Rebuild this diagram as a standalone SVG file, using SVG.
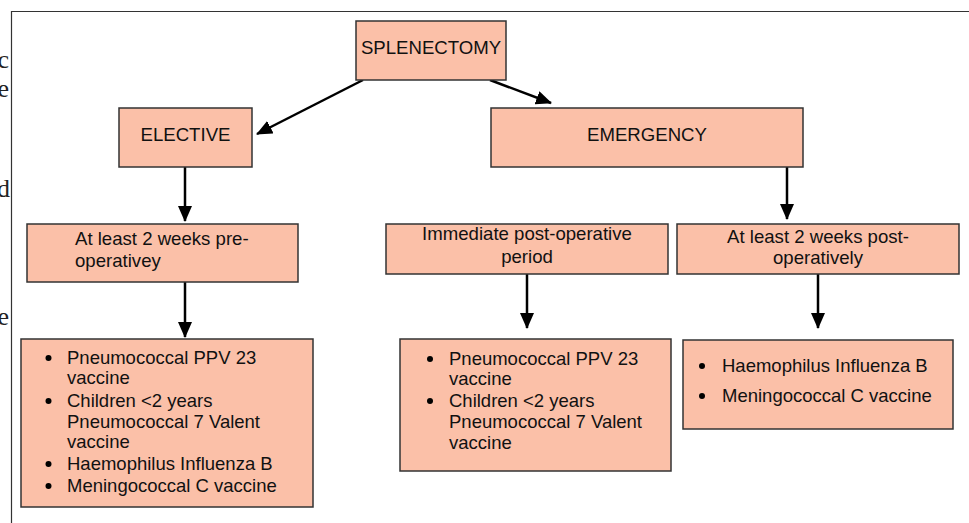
<svg xmlns="http://www.w3.org/2000/svg" width="969" height="523" viewBox="0 0 969 523">
<style>
.box{fill:#FBC0A8;stroke:#333;stroke-width:1.5}
.t{font-family:"Liberation Sans",Arial,sans-serif;font-size:18.6px;fill:#111}
.l{font-family:"Liberation Sans",Arial,sans-serif;font-size:18.5px;fill:#111}
.c{text-anchor:middle}
.edge{stroke:#000;stroke-width:2.5;fill:none;marker-end:url(#ah)}
.frame{stroke:#333;stroke-width:1.2;fill:none}
.pg{font-family:"Liberation Serif","Times New Roman",serif;font-size:26px;fill:#222;text-anchor:end}
</style>
<defs>
<marker id="ah" markerUnits="userSpaceOnUse" markerWidth="16" markerHeight="14" refX="15" refY="7" orient="auto">
<path d="M0,0 L16,7 L0,14 z" fill="#000"/>
</marker>
</defs>
<text class="pg" x="9" y="68">c</text>
<text class="pg" x="9" y="97">e</text>
<text class="pg" x="10" y="197">d</text>
<text class="pg" x="9" y="325">e</text>
<path class="frame" d="M11.5,523 V11.5 H969"/>
<g id="connectors">
<line class="edge" x1="363" y1="80" x2="257" y2="134"/>
<line class="edge" x1="490" y1="80" x2="551" y2="103"/>
<line class="edge" x1="185" y1="167" x2="185" y2="221"/>
<line class="edge" x1="787" y1="167" x2="787" y2="219"/>
<line class="edge" x1="185" y1="282" x2="185" y2="337"/>
<line class="edge" x1="527" y1="274" x2="527" y2="328"/>
<line class="edge" x1="818" y1="274" x2="818" y2="328"/>
</g>
<g id="splenectomy">
<rect class="box" x="356" y="21" width="150" height="59"/>
<text class="t c" x="431" y="54">SPLENECTOMY</text>
</g>
<g id="elective">
<rect class="box" x="119" y="108" width="133" height="59"/>
<text class="t c" x="185.5" y="141">ELECTIVE</text>
</g>
<g id="emergency">
<rect class="box" x="491" y="108" width="312" height="59"/>
<text class="t c" x="647" y="141">EMERGENCY</text>
</g>
<g id="pre-op">
<rect class="box" x="27" y="224" width="271" height="58"/>
<text class="t" x="75" y="245">At least 2 weeks pre-</text>
<text class="t" x="75" y="267">operativey</text>
</g>
<g id="immediate">
<rect class="box" x="386" y="224" width="282" height="50"/>
<text class="t c" x="527" y="240">Immediate post-operative</text>
<text class="t c" x="527" y="263">period</text>
</g>
<g id="post-op">
<rect class="box" x="677" y="224" width="282" height="50"/>
<text class="t c" x="818" y="243">At least 2 weeks post-</text>
<text class="t c" x="818" y="264">operatively</text>
</g>
<g id="list-elective">
<rect class="box" x="21" y="339" width="292" height="168"/>
<circle cx="48.5" cy="358" r="3"/>
<text class="l" x="67" y="364">Pneumococcal PPV 23</text>
<text class="l" x="67" y="384">vaccine</text>
<circle cx="48.5" cy="401" r="3"/>
<text class="l" x="67" y="407">Children &lt;2 years</text>
<text class="l" x="67" y="428">Pneumococcal 7 Valent</text>
<text class="l" x="67" y="448">vaccine</text>
<circle cx="48.5" cy="464" r="3"/>
<text class="l" x="67" y="470">Haemophilus Influenza B</text>
<circle cx="48.5" cy="486" r="3"/>
<text class="l" x="67" y="492">Meningococcal C vaccine</text>
</g>
<g id="list-immediate">
<rect class="box" x="400" y="339" width="271" height="132"/>
<circle cx="430" cy="359" r="3"/>
<text class="l" x="449" y="365">Pneumococcal PPV 23</text>
<text class="l" x="449" y="385">vaccine</text>
<circle cx="430" cy="401" r="3"/>
<text class="l" x="449" y="407">Children &lt;2 years</text>
<text class="l" x="449" y="428">Pneumococcal 7 Valent</text>
<text class="l" x="449" y="449">vaccine</text>
</g>
<g id="list-post">
<rect class="box" x="683" y="340" width="270" height="89"/>
<circle cx="702" cy="366" r="3"/>
<text class="l" x="722" y="372">Haemophilus Influenza B</text>
<circle cx="702" cy="396" r="3"/>
<text class="l" x="722" y="402">Meningococcal C vaccine</text>
</g>
</svg>
